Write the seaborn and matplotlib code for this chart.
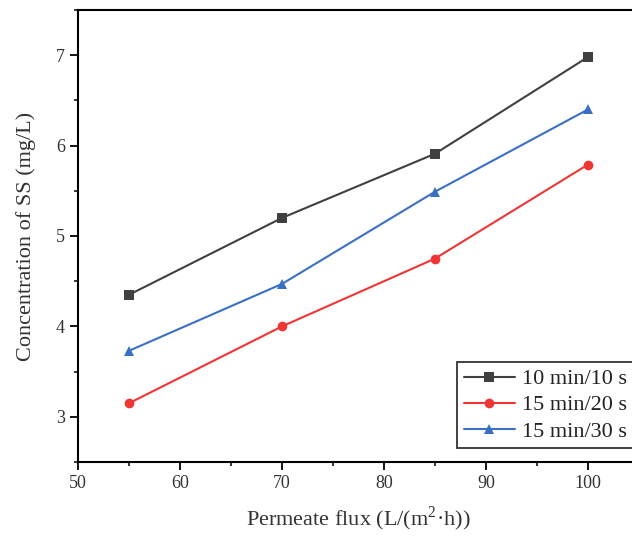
import pandas as pd
import matplotlib.pyplot as plt
import seaborn as sns
from matplotlib.ticker import MultipleLocator

# ---------------------------------
# Data
# ---------------------------------

flux = [55, 70, 85, 100]

ss_10min_10s = [4.35, 5.20, 5.91, 6.98]
ss_15min_20s = [3.15, 4.00, 4.75, 5.79]
ss_15min_30s = [3.73, 4.47, 5.49, 6.40]

series_names = ["10 min/10 s", "15 min/20 s", "15 min/30 s"]

# ---------------------------------
# Build table
# ---------------------------------

rows = []
for name, values in zip(series_names, [ss_10min_10s, ss_15min_20s, ss_15min_30s]):
    for x, y in zip(flux, values):
        rows.append({"flux": x, "ss": y, "mode": name})

df = pd.DataFrame(rows)

# ---------------------------------
# Plot
# ---------------------------------

sns.set_style("ticks")
plt.rcParams["font.family"] = ["Liberation Serif", "DejaVu Serif"]
plt.rcParams["mathtext.fontset"] = "custom"
plt.rcParams["mathtext.rm"] = "Liberation Serif"

fig = plt.figure(figsize=(6.32, 5.37), dpi=100)
ax = fig.add_axes([78 / 632, 1 - 462 / 537, 561 / 632, 452 / 537])

palette = {
    "10 min/10 s": "#404040",
    "15 min/20 s": "#f03535",
    "15 min/30 s": "#3a70c4",
}
markers = {"10 min/10 s": "s", "15 min/20 s": "o", "15 min/30 s": "^"}

sns.lineplot(
    data=df,
    x="flux",
    y="ss",
    hue="mode",
    style="mode",
    markers=markers,
    dashes=False,
    palette=palette,
    markersize=7,
    markeredgewidth=0,
    linewidth=1.5,
    ax=ax
)

ax.set_xlim(50, 105)
ax.set_ylim(2.5, 7.5)
ax.set_xticks([50, 60, 70, 80, 90, 100])
ax.xaxis.set_minor_locator(MultipleLocator(5))
ax.yaxis.set_major_locator(MultipleLocator(1))
ax.yaxis.set_minor_locator(MultipleLocator(0.5))

ax.tick_params(which="major", direction="out", length=6, width=1.3, pad=3.5,
               labelsize=13, colors="black", labelcolor="#333333")
ax.tick_params(which="minor", direction="out", length=3, width=1.3)

for side in ax.spines.values():
    side.set_linewidth(1.5)
    side.set_color("black")

ax.set_xlabel("Permeate flux (L/(m$^{2}$·h))", fontsize=16, color="#333333", labelpad=9)
ax.set_ylabel("Concentration of SS (mg/L)", fontsize=16, color="#333333", labelpad=14)

# Legend runs past the right edge like the reference
legend = ax.legend(
    loc="upper left",
    bbox_to_anchor=(0.676, 0.221),
    borderaxespad=0,
    fontsize=16,
    frameon=True,
    fancybox=False,
    edgecolor="black",
    borderpad=0.3,
    labelspacing=0.25,
    handlelength=2.3,
    handletextpad=0.3,
)
legend.get_frame().set_linewidth(1.3)
for text in legend.get_texts():
    text.set_color("#222222")

fig.savefig("out.png", dpi=100)
